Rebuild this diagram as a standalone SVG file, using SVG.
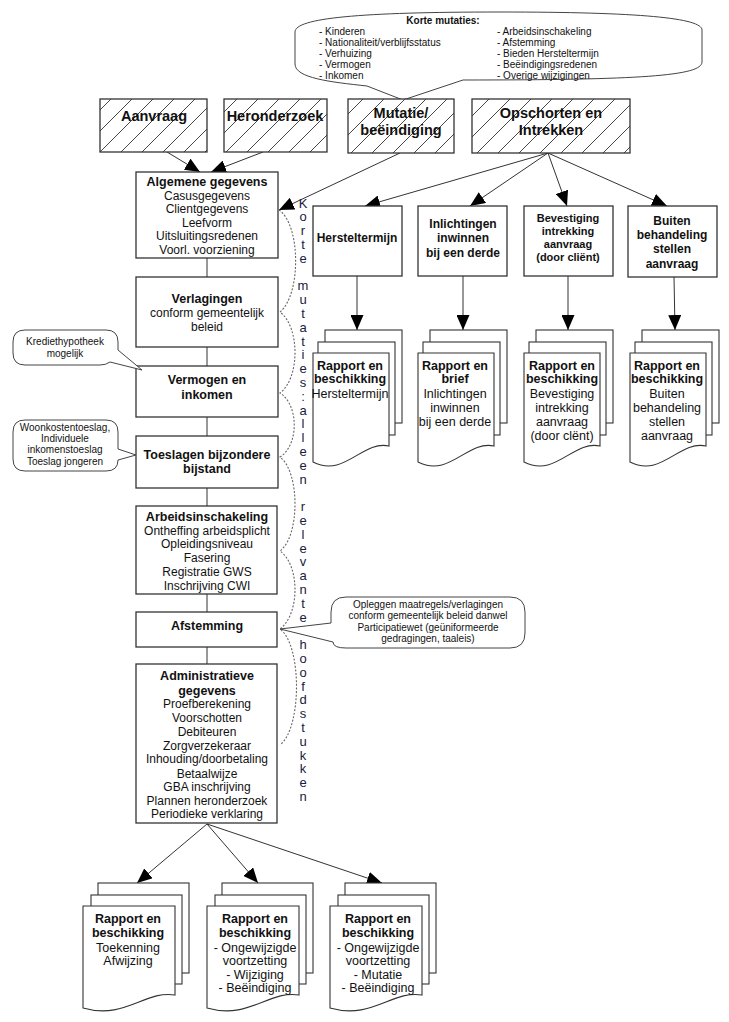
<svg xmlns="http://www.w3.org/2000/svg" xmlns:xlink="http://www.w3.org/1999/xlink" width="729" height="1022" viewBox="0 0 729 1022">
<style>
text{font-family:"Liberation Sans",Arial,sans-serif;fill:#111}
.box{fill:#fff;stroke:#333;stroke-width:1.3}
.hbox{fill:url(#hatch);stroke:#333;stroke-width:1.3}
.b{font-weight:bold}
.c{text-anchor:middle}
.f14{font-size:14.5px}
.f125{font-size:12.5px}
.f12{font-size:12px}
.f11{font-size:11px}
.f10{font-size:10px}
.conn{stroke:#333;stroke-width:1;fill:none}
.arr{marker-end:url(#ah)}
.brace{stroke:#666;stroke-width:1.1;fill:none;stroke-dasharray:2 1.6}
.call{fill:#fff;stroke:#444;stroke-width:1}
.page{fill:#fff;stroke:#333;stroke-width:1.1}
.vt{font-size:13px;text-anchor:middle;fill:#1a2040}
</style>
<defs>
<pattern id="hatch" patternUnits="userSpaceOnUse" width="21" height="21">
<rect width="21" height="21" fill="#fff"/>
<path d="M0,21 L21,0 M-3,3 L3,-3 M18,24 L24,18" stroke="#333" stroke-width="0.9"/>
</pattern>
<marker id="ah" markerUnits="userSpaceOnUse" markerWidth="15" markerHeight="13" refX="15" refY="6.5" orient="auto">
<path d="M0,0 L15,6.5 L0,13 Z" fill="#000"/>
</marker>
<g id="docR">
<rect class="page" x="12" y="0" width="77" height="93"/>
<rect class="page" x="5" y="12" width="77" height="93"/>
<path class="page" d="M0,23 H76 V116 C49,110 32,148 0,132 Z"/>
</g>
<g id="docB">
<rect class="page" x="15" y="0" width="91" height="90"/>
<rect class="page" x="8" y="12" width="91" height="89"/>
<path class="page" d="M0,23 H92 V112 C62,107 42,137 0,125 Z"/>
</g>
</defs>
<rect width="729" height="1022" fill="#fff"/>

<g id="connectors">
<line class="conn arr" x1="167" y1="152" x2="200" y2="172"/>
<line class="conn arr" x1="263" y1="152" x2="211" y2="172"/>
<line class="conn arr" x1="400" y1="153" x2="279" y2="210"/>
<line class="conn arr" x1="548" y1="153" x2="365" y2="206"/>
<line class="conn arr" x1="548" y1="153" x2="470" y2="206"/>
<line class="conn arr" x1="548" y1="153" x2="567" y2="206"/>
<line class="conn arr" x1="548" y1="153" x2="667" y2="206"/>
<line class="conn arr" x1="357" y1="276" x2="357" y2="330"/>
<line class="conn arr" x1="463" y1="276" x2="463" y2="330"/>
<line class="conn arr" x1="568" y1="276" x2="568" y2="330"/>
<line class="conn arr" x1="674" y1="277" x2="675" y2="330"/>
<line class="conn" x1="207" y1="258" x2="207" y2="277"/>
<line class="conn" x1="207" y1="347" x2="207" y2="366"/>
<line class="conn" x1="207" y1="417" x2="207" y2="436"/>
<line class="conn" x1="207" y1="488" x2="207" y2="506"/>
<line class="conn" x1="207" y1="594" x2="207" y2="612"/>
<line class="conn" x1="207" y1="647" x2="207" y2="664"/>
<line class="conn arr" x1="207" y1="824" x2="137" y2="883"/>
<line class="conn arr" x1="207" y1="824" x2="258" y2="883"/>
<line class="conn arr" x1="207" y1="824" x2="382" y2="883"/>
<path class="brace" d="M279,210 C301,225 301,295 280,312 C300,327 300,378 280,393 C299,405 299,445 280,457 C300,472 300,536 280,551 C300,565 300,614 280,629 C302,645 302,728 280,745"/>
</g>

<g id="callout-korte-mutaties">
<path class="call" d="M403,100 L367,86 C330,82 295,78 295,64 L295,32 C295,18 360,12 500,12 C640,12 702,18 702,30 L702,62 C702,76 640,80 463,80 Z"/>
<text class="f10 b c" x="443" y="24">Korte mutaties:</text>
<text class="f10" x="319" y="35">- Kinderen</text>
<text class="f10" x="319" y="46">- Nationaliteit/verblijfsstatus</text>
<text class="f10" x="319" y="57">- Verhuizing</text>
<text class="f10" x="319" y="68">- Vermogen</text>
<text class="f10" x="319" y="79">- Inkomen</text>
<text class="f10" x="497" y="35">- Arbeidsinschakeling</text>
<text class="f10" x="497" y="46">- Afstemming</text>
<text class="f10" x="497" y="57">- Bieden Hersteltermijn</text>
<text class="f10" x="497" y="68">- Beëindigingsredenen</text>
<text class="f10" x="497" y="79">- Overige wijzigingen</text>
</g>

<g id="aanvraag">
<rect class="hbox" x="100" y="99" width="107" height="53"/>
<text class="f14 b c" x="154" y="121">Aanvraag</text>
</g>
<g id="heronderzoek">
<rect class="hbox" x="224" y="99" width="103" height="53"/>
<text class="f14 b c" x="275" y="121">Heronderzoek</text>
</g>
<g id="mutatie">
<rect class="hbox" x="348" y="99" width="106" height="54"/>
<text class="f14 b c" x="401" y="118">Mutatie/</text>
<text class="f14 b c" x="401" y="135">beëindiging</text>
</g>
<g id="opschorten">
<rect class="hbox" x="472" y="99" width="158" height="54"/>
<text class="f14 b c" x="551" y="118">Opschorten en</text>
<text class="f14 b c" x="551" y="135">Intrekken</text>
</g>

<g id="algemene">
<rect class="box" x="136" y="172" width="142" height="86"/>
<text class="f125 b c" x="207" y="185.5">Algemene gegevens</text>
<text class="f12 c" x="207" y="199.5">Casusgegevens</text>
<text class="f12 c" x="207" y="213">Clientgegevens</text>
<text class="f12 c" x="207" y="226.5">Leefvorm</text>
<text class="f12 c" x="207" y="240">Uitsluitingsredenen</text>
<text class="f12 c" x="207" y="253.5">Voorl. voorziening</text>
</g>
<g id="verlagingen">
<rect class="box" x="136" y="277" width="142" height="70"/>
<text class="f125 b c" x="207" y="302.5">Verlagingen</text>
<text class="f12 c" x="207" y="316.5">conform gemeentelijk</text>
<text class="f12 c" x="207" y="330.5">beleid</text>
</g>
<g id="vermogen">
<rect class="box" x="136" y="366" width="142" height="51"/>
<text class="f125 b c" x="207" y="384">Vermogen en</text>
<text class="f125 b c" x="207" y="398.5">inkomen</text>
</g>
<g id="toeslagen">
<rect class="box" x="136" y="436" width="142" height="52"/>
<text class="f125 b c" x="207" y="458.5">Toeslagen bijzondere</text>
<text class="f125 b c" x="207" y="472.5">bijstand</text>
</g>
<g id="arbeidsinschakeling">
<rect class="box" x="136" y="506" width="141" height="88"/>
<text class="f125 b c" x="207" y="520.5">Arbeidsinschakeling</text>
<text class="f12 c" x="207" y="534.5">Ontheffing arbeidsplicht</text>
<text class="f12 c" x="207" y="547.5">Opleidingsniveau</text>
<text class="f12 c" x="207" y="561.5">Fasering</text>
<text class="f12 c" x="207" y="575.5">Registratie GWS</text>
<text class="f12 c" x="207" y="589.5">Inschrijving CWI</text>
</g>
<g id="afstemming">
<rect class="box" x="136" y="612" width="141" height="35"/>
<text class="f125 b c" x="207" y="629.5">Afstemming</text>
</g>
<g id="administratieve">
<rect class="box" x="136" y="664" width="141" height="159"/>
<text class="f125 b c" x="207" y="679.5">Administratieve</text>
<text class="f125 b c" x="207" y="694.5">gegevens</text>
<text class="f12 c" x="207" y="707.5">Proefberekening</text>
<text class="f12 c" x="207" y="721.5">Voorschotten</text>
<text class="f12 c" x="207" y="735.5">Debiteuren</text>
<text class="f12 c" x="207" y="749.5">Zorgverzekeraar</text>
<text class="f12 c" x="207" y="762.5">Inhouding/doorbetaling</text>
<text class="f12 c" x="207" y="777.5">Betaalwijze</text>
<text class="f12 c" x="207" y="790.5">GBA inschrijving</text>
<text class="f12 c" x="207" y="804.5">Plannen heronderzoek</text>
<text class="f12 c" x="207" y="817.5">Periodieke verklaring</text>
</g>

<g id="callout-krediet">
<path class="call" d="M25,330 H106 Q118,330 118,342 V350 L142,370 L110,362 Q106,365 100,365 H25 Q13,365 13,353 V342 Q13,330 25,330 Z"/>
<text class="f10 c" x="65" y="344.5">Krediethypotheek</text>
<text class="f10 c" x="65" y="356.5">mogelijk</text>
</g>
<g id="callout-woonkosten">
<path class="call" d="M25,420 H106 Q118,420 118,432 V449 L136,455 L118,460 Q118,471 106,471 H25 Q13,471 13,459 V432 Q13,420 25,420 Z"/>
<text class="f10 c" x="65" y="430.5">Woonkostentoeslag,</text>
<text class="f10 c" x="65" y="441.5">Individuele</text>
<text class="f10 c" x="65" y="453">inkomenstoeslag</text>
<text class="f10 c" x="65" y="464.5">Toeslag jongeren</text>
</g>
<g id="callout-afstemming">
<path class="call" d="M346,597 H510 Q525,597 525,612 V633 Q525,648 510,648 H346 Q333,648 333,642 L280,629 L331,623 V612 Q331,597 346,597 Z"/>
<text class="f10 c" x="428" y="607.5">Opleggen maatregels/verlagingen</text>
<text class="f10 c" x="428" y="619">conform gemeentelijk beleid danwel</text>
<text class="f10 c" x="428" y="630.5">Participatiewet (geüniformeerde</text>
<text class="f10 c" x="428" y="642">gedragingen, taaleis)</text>
</g>

<g id="hersteltermijn">
<rect class="box" x="313" y="206" width="89" height="70"/>
<text class="f12 b c" x="357" y="241.5">Hersteltermijn</text>
</g>
<g id="inlichtingen">
<rect class="box" x="418" y="206" width="89" height="70"/>
<text class="f12 b c" x="463" y="227.5">Inlichtingen</text>
<text class="f12 b c" x="463" y="241.5">inwinnen</text>
<text class="f12 b c" x="463" y="256.5">bij een derde</text>
</g>
<g id="bevestiging">
<rect class="box" x="524" y="206" width="89" height="70"/>
<text class="f11 b c" x="568" y="222">Bevestiging</text>
<text class="f11 b c" x="568" y="235">intrekking</text>
<text class="f11 b c" x="568" y="248">aanvraag</text>
<text class="f11 b c" x="568" y="261">(door cliënt)</text>
</g>
<g id="buiten">
<rect class="box" x="628" y="206" width="89" height="71"/>
<text class="f12 b c" x="672" y="224.5">Buiten</text>
<text class="f12 b c" x="672" y="238.5">behandeling</text>
<text class="f12 b c" x="672" y="252.5">stellen</text>
<text class="f12 b c" x="672" y="267.5">aanvraag</text>
</g>

<g id="doc-hersteltermijn">
<use xlink:href="#docR" href="#docR" transform="translate(313,330)"/>
<text class="f125 b c" x="350" y="369.5">Rapport en</text>
<text class="f125 b c" x="350" y="382.5">beschikking</text>
<text class="f125 c" x="350" y="397.5">Hersteltermijn</text>
</g>
<g id="doc-inlichtingen">
<use xlink:href="#docR" href="#docR" transform="translate(418,330)"/>
<text class="f125 b c" x="455" y="369.5">Rapport en</text>
<text class="f125 b c" x="455" y="382.5">brief</text>
<text class="f125 c" x="455" y="397.5">Inlichtingen</text>
<text class="f125 c" x="455" y="411.5">inwinnen</text>
<text class="f125 c" x="455" y="425.5">bij een derde</text>
</g>
<g id="doc-bevestiging">
<use xlink:href="#docR" href="#docR" transform="translate(524,330)"/>
<text class="f125 b c" x="562" y="369.5">Rapport en</text>
<text class="f125 b c" x="562" y="382.5">beschikking</text>
<text class="f125 c" x="562" y="397.5">Bevestiging</text>
<text class="f125 c" x="562" y="411.5">intrekking</text>
<text class="f125 c" x="562" y="425.5">aanvraag</text>
<text class="f125 c" x="562" y="439.5">(door clënt)</text>
</g>
<g id="doc-buiten">
<use xlink:href="#docR" href="#docR" transform="translate(630,330)"/>
<text class="f125 b c" x="667" y="369.5">Rapport en</text>
<text class="f125 b c" x="667" y="382.5">beschikking</text>
<text class="f125 c" x="667" y="397.5">Buiten</text>
<text class="f125 c" x="667" y="411.5">behandeling</text>
<text class="f125 c" x="667" y="425.5">stellen</text>
<text class="f125 c" x="667" y="439.5">aanvraag</text>
</g>

<g id="doc-toekenning">
<use xlink:href="#docB" href="#docB" transform="translate(83,883)"/>
<text class="f125 b c" x="128" y="922.5">Rapport en</text>
<text class="f125 b c" x="128" y="936.5">beschikking</text>
<text class="f125 c" x="128" y="951.5">Toekenning</text>
<text class="f125 c" x="128" y="964.5">Afwijzing</text>
</g>
<g id="doc-wijziging">
<use xlink:href="#docB" href="#docB" transform="translate(207,883)"/>
<text class="f125 b c" x="255" y="922.5">Rapport en</text>
<text class="f125 b c" x="255" y="936.5">beschikking</text>
<text class="f125 c" x="255" y="951.5">- Ongewijzigde</text>
<text class="f125 c" x="255" y="964.5">voortzetting</text>
<text class="f125 c" x="255" y="978.5">- Wijziging</text>
<text class="f125 c" x="255" y="991.5">- Beëindiging</text>
</g>
<g id="doc-mutatie">
<use xlink:href="#docB" href="#docB" transform="translate(330,883)"/>
<text class="f125 b c" x="378" y="922.5">Rapport en</text>
<text class="f125 b c" x="378" y="936.5">beschikking</text>
<text class="f125 c" x="378" y="951.5">- Ongewijzigde</text>
<text class="f125 c" x="378" y="964.5">voortzetting</text>
<text class="f125 c" x="378" y="978.5">- Mutatie</text>
<text class="f125 c" x="378" y="991.5">- Beëindiging</text>
</g>

<g id="vertical-label">
<text class="vt" x="303" y="207.5">K</text>
<text class="vt" x="303" y="221.3">o</text>
<text class="vt" x="303" y="235.1">r</text>
<text class="vt" x="303" y="248.9">t</text>
<text class="vt" x="303" y="262.7">e</text>
<text class="vt" x="303" y="290.3">m</text>
<text class="vt" x="303" y="304.1">u</text>
<text class="vt" x="303" y="317.9">t</text>
<text class="vt" x="303" y="331.7">a</text>
<text class="vt" x="303" y="345.5">t</text>
<text class="vt" x="303" y="359.3">i</text>
<text class="vt" x="303" y="373.1">e</text>
<text class="vt" x="303" y="386.9">s</text>
<text class="vt" x="303" y="400.7">:</text>
<text class="vt" x="303" y="414.5">a</text>
<text class="vt" x="303" y="428.3">l</text>
<text class="vt" x="303" y="442.1">l</text>
<text class="vt" x="303" y="455.9">e</text>
<text class="vt" x="303" y="469.7">e</text>
<text class="vt" x="303" y="483.5">n</text>
<text class="vt" x="303" y="511.1">r</text>
<text class="vt" x="303" y="524.9">e</text>
<text class="vt" x="303" y="538.7">l</text>
<text class="vt" x="303" y="552.5">e</text>
<text class="vt" x="303" y="566.3">v</text>
<text class="vt" x="303" y="580.1">a</text>
<text class="vt" x="303" y="593.9">n</text>
<text class="vt" x="303" y="607.7">t</text>
<text class="vt" x="303" y="621.5">e</text>
<text class="vt" x="303" y="649.1">h</text>
<text class="vt" x="303" y="662.9">o</text>
<text class="vt" x="303" y="676.7">o</text>
<text class="vt" x="303" y="690.5">f</text>
<text class="vt" x="303" y="704.3">d</text>
<text class="vt" x="303" y="718.1">s</text>
<text class="vt" x="303" y="731.9">t</text>
<text class="vt" x="303" y="745.7">u</text>
<text class="vt" x="303" y="759.5">k</text>
<text class="vt" x="303" y="773.3">k</text>
<text class="vt" x="303" y="787.1">e</text>
<text class="vt" x="303" y="800.9">n</text>
</g>
</svg>
